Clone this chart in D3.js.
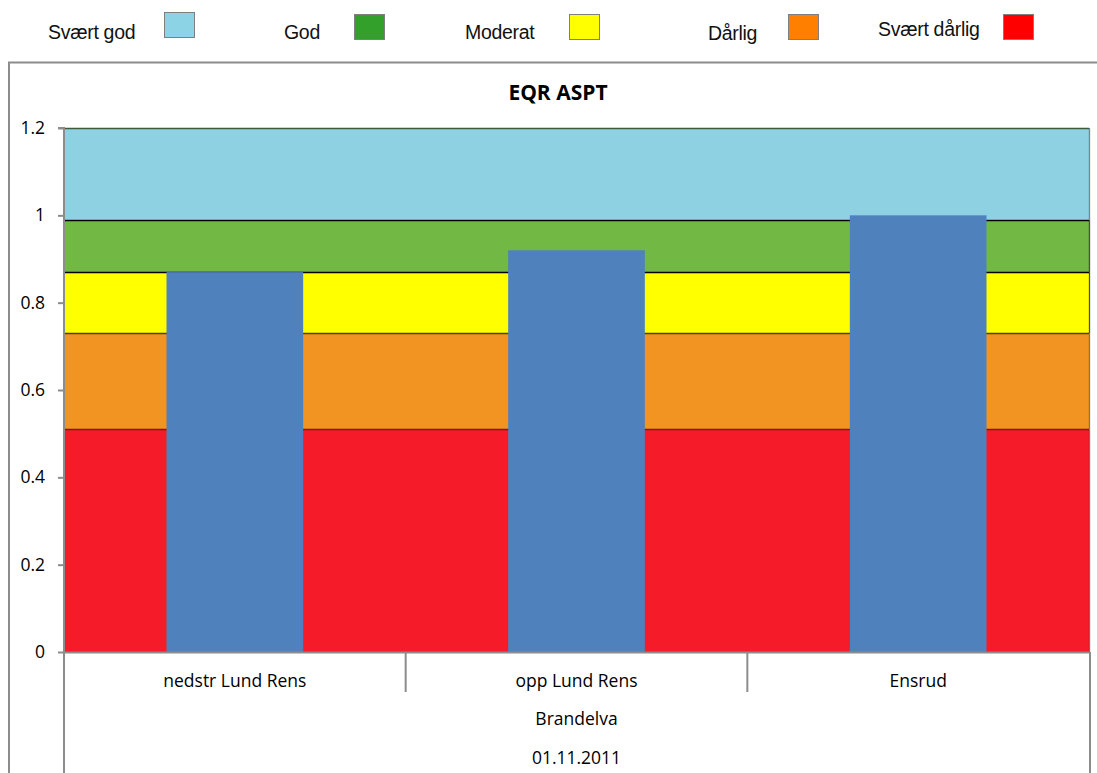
<!DOCTYPE html>
<html>
<head>
<meta charset="utf-8">
<script src="https://cdn.jsdelivr.net/npm/d3@7/dist/d3.min.js"></script>
<style>
  html, body { margin: 0; padding: 0; background: #fff; }
  svg { display: block; }
</style>
</head>
<body>
<svg id="chart" width="1097" height="773"></svg>
<script>
// Stations and their EQR ASPT values
const stations = ["nedstr Lund Rens", "opp Lund Rens", "Ensrud"];
const eqrValues = [0.87, 0.92, 1.0];
const river = "Brandelva";
const sampleDate = "01.11.2011";

// Status classes: lower/upper EQR limits (bottom to top)
const classNames = ["Svært dårlig", "Dårlig", "Moderat", "God", "Svært god"];
const classLower = [0, 0.51, 0.73, 0.87, 0.99];
const classUpper = [0.51, 0.73, 0.87, 0.99, 1.2];
const classFill = ["#F61B29", "#F29421", "#FFFF00", "#72B844", "#8ED1E3"];
const classEdge = ["#7a1a1a", "#5a3a10", "#000000", "#000000", "#3e5a3a"];

// Legend (left to right)
const legendNames = ["Svært god", "God", "Moderat", "Dårlig", "Svært dårlig"];
const legendColors = ["#8DD3E6", "#33A02C", "#FFFF00", "#FF7F00", "#FF0000"];

const yTicks = [0, 0.2, 0.4, 0.6, 0.8, 1, 1.2];

const axisFont = "'Open Sans', Lato, sans-serif";

const svg = d3.select("#chart");
const plot = { left: 64, right: 1089, top: 128, bottom: 652 };

const x = d3.scaleBand().domain(stations).range([plot.left, plot.right]).paddingInner(0).paddingOuter(0);
const y = d3.scaleLinear().domain([0, 1.2]).range([plot.bottom, plot.top]);

// Outer chart frame
svg.append("path")
  .attr("d", `M9,773 L9,62.5 L1097,62.5`)
  .attr("fill", "none").attr("stroke", "#8c8c8c").attr("stroke-width", 2);

// Legend
const legendTextX = [48, 284, 465, 708, 878];
const legendTextY = [39, 39, 39, 40, 36];
const legendBoxX = [164, 354, 569, 788, 1003];
const legendBoxY = [12, 14, 14, 14, 14];
const leg = svg.append("g");
legendNames.forEach((n, i) => {
  leg.append("text")
    .attr("x", legendTextX[i]).attr("y", legendTextY[i])
    .attr("font-family", "'Liberation Sans', Arial, sans-serif")
    .attr("font-size", 19.5).attr("letter-spacing", -0.3)
    .attr("fill", "#111").text(n);
  leg.append("rect")
    .attr("x", legendBoxX[i] + 0.5).attr("y", legendBoxY[i] + 0.5)
    .attr("width", 30).attr("height", 25)
    .attr("fill", legendColors[i]).attr("stroke", "#7f7f7f").attr("stroke-width", 1);
});

// Title
svg.append("text")
  .attr("x", 558).attr("y", 100)
  .attr("text-anchor", "middle")
  .attr("font-family", axisFont)
  .attr("font-weight", "bold").attr("font-size", 21)
  .attr("fill", "#000").text("EQR ASPT");

// Status class bands across the plot
const bands = svg.append("g");
classNames.forEach((n, i) => {
  bands.append("rect")
    .attr("x", plot.left).attr("y", y(classUpper[i]))
    .attr("width", plot.right - plot.left)
    .attr("height", y(classLower[i]) - y(classUpper[i]))
    .attr("fill", classFill[i]);
});
classNames.forEach((n, i) => {
  bands.append("line")
    .attr("x1", plot.left).attr("x2", plot.right)
    .attr("y1", Math.round(y(classUpper[i])) + 0.5).attr("y2", Math.round(y(classUpper[i])) + 0.5)
    .attr("stroke", classEdge[i]).attr("stroke-width", 1.3);
  bands.append("line")
    .attr("x1", plot.right + 0.5).attr("x2", plot.right + 0.5)
    .attr("y1", y(classUpper[i])).attr("y2", y(classLower[i]))
    .attr("stroke", classEdge[i]).attr("stroke-opacity", 0.7).attr("stroke-width", 1.3);
});

// EQR bars
const barW = x.bandwidth() * 0.4;
svg.append("g").selectAll("rect")
  .data(stations)
  .join("rect")
  .attr("x", (d) => x(d) + (x.bandwidth() - barW) / 2)
  .attr("y", (d, i) => y(eqrValues[i]))
  .attr("width", barW)
  .attr("height", (d, i) => y(0) - y(eqrValues[i]))
  .attr("fill", "#4F81BD");

// Y axis
const yAxis = svg.append("g")
  .attr("transform", `translate(${plot.left},0)`)
  .call(d3.axisLeft(y).tickValues(yTicks).tickFormat(d3.format("")).tickSize(6).tickPadding(13));
yAxis.select(".domain").attr("stroke", "#8c8c8c").attr("stroke-width", 2)
  .attr("d", `M-6,${plot.top}H0V773`);
yAxis.selectAll(".tick line").attr("stroke", "#8c8c8c").attr("stroke-width", 2);
yAxis.selectAll(".tick text")
  .attr("font-family", axisFont)
  .attr("font-size", 17.5).attr("fill", "#000");

// Category axis (x) with separators
const cat = svg.append("g");
cat.append("line")
  .attr("x1", plot.left).attr("x2", plot.right)
  .attr("y1", plot.bottom + 0.5).attr("y2", plot.bottom + 0.5)
  .attr("stroke", "#8c8c8c").attr("stroke-width", 2);
stations.slice(1).forEach((s) => {
  cat.append("line")
    .attr("x1", x(s)).attr("x2", x(s))
    .attr("y1", plot.bottom).attr("y2", 692)
    .attr("stroke", "#8c8c8c").attr("stroke-width", 2);
});
cat.append("line")
  .attr("x1", plot.right + 1).attr("x2", plot.right + 1)
  .attr("y1", plot.bottom).attr("y2", 773)
  .attr("stroke", "#8c8c8c").attr("stroke-width", 2);
stations.forEach((s) => {
  cat.append("text")
    .attr("x", x(s) + x.bandwidth() / 2).attr("y", 687)
    .attr("text-anchor", "middle")
    .attr("font-family", axisFont)
    .attr("font-size", 17.5).attr("fill", "#000").text(s);
});
cat.append("text")
  .attr("x", (plot.left + plot.right) / 2).attr("y", 725)
  .attr("text-anchor", "middle")
  .attr("font-family", axisFont)
  .attr("font-size", 17.5).attr("fill", "#000").text(river);
cat.append("text")
  .attr("x", (plot.left + plot.right) / 2).attr("y", 764)
  .attr("text-anchor", "middle")
  .attr("font-family", axisFont)
  .attr("font-size", 17.5).attr("fill", "#000").text(sampleDate);
</script>
</body>
</html>
